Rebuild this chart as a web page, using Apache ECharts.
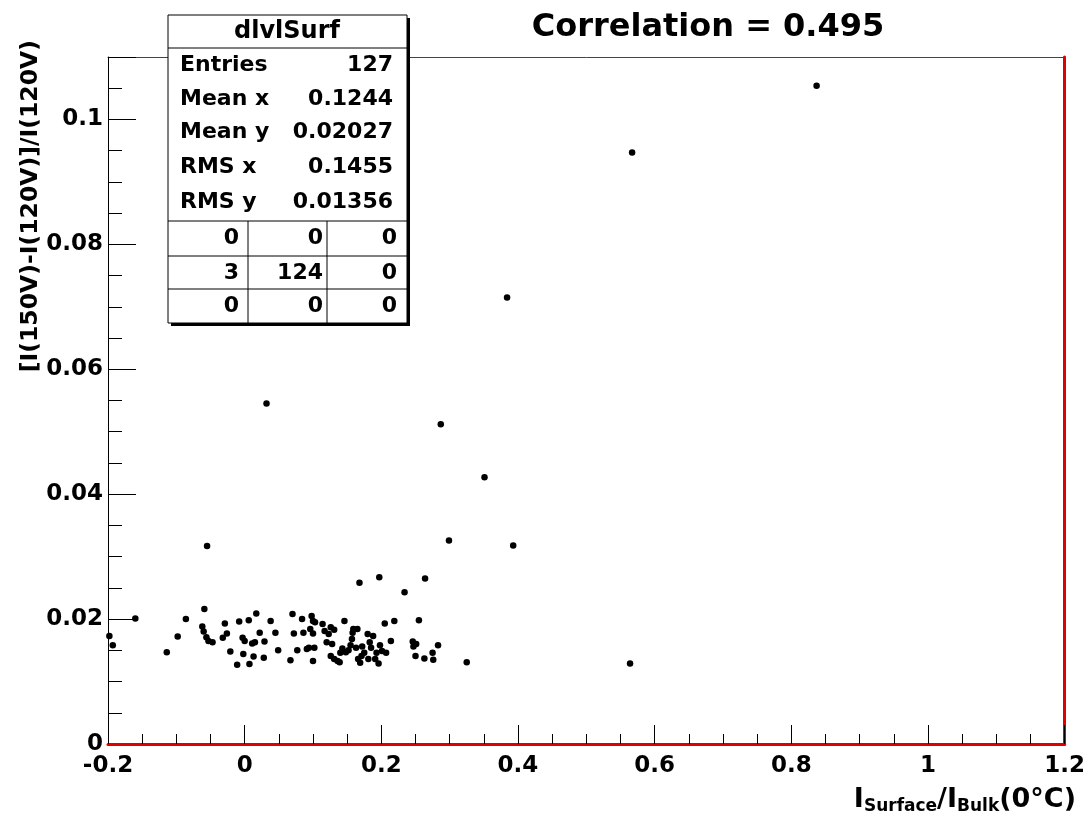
<!DOCTYPE html>
<html>
<head>
<meta charset="utf-8">
<script src="https://cdn.jsdelivr.net/npm/echarts@6/dist/echarts.min.js"></script>
<style>
html, body { margin: 0; padding: 0; background: #fff; }
#chart { width: 1088px; height: 820px; }
</style>
</head>
<body>
<div id="chart"></div>
<script>
// points (3 underflow entries with x < -0.2 are not drawn)
var pointsX = [-0.198, -0.193, -0.160, -0.114, -0.098, -0.086, -0.059, -0.062, -0.060, -0.056,
    -0.053, -0.047, -0.029, -0.032, -0.026, -0.021, -0.011, -0.008, -0.002, -0.003,
    0.000, 0.006, 0.007, 0.011, 0.013, 0.017, 0.015, 0.022, 0.028, 0.029,
    0.038, 0.045, 0.049, 0.067, 0.070, 0.072, 0.077, 0.084, 0.086, 0.091,
    0.094, 0.096, 0.098, 0.100, 0.100, 0.100, 0.102, 0.103, 0.114, 0.117,
    0.120, 0.123, 0.126, 0.128, 0.131, 0.126, 0.131, 0.136, 0.139, 0.140,
    0.143, 0.146, 0.148, 0.152, 0.155, 0.157, 0.158, 0.159, 0.163, 0.165,
    0.166, 0.168, 0.169, 0.171, 0.172, 0.175, 0.180, 0.181, 0.183, 0.185,
    0.188, 0.191, 0.193, 0.196, 0.197, 0.198, 0.201, 0.205, 0.207, 0.214,
    0.219, 0.234, 0.246, 0.251, 0.247, 0.250, 0.255, 0.264, 0.263, 0.275,
    0.276, 0.283, 0.325,
    -0.055, 0.032, 0.287, 0.299, 0.351, 0.384, 0.393, 0.564, 0.567, 0.837];
var pointsY = [0.0173, 0.0158, 0.0201, 0.0147, 0.0172, 0.0200, 0.0216, 0.0188, 0.0180, 0.0171,
    0.0165, 0.0163, 0.0193, 0.0170, 0.0177, 0.0148, 0.0127, 0.0196, 0.0144, 0.0170,
    0.0165, 0.0198, 0.0128, 0.0161, 0.0140, 0.0209, 0.0163, 0.0178, 0.0138, 0.0164,
    0.0197, 0.0178, 0.0150, 0.0134, 0.0208, 0.0177, 0.0150, 0.0200, 0.0178, 0.0152,
    0.0154, 0.0184, 0.0205, 0.0197, 0.0177, 0.0133, 0.0154, 0.0195, 0.0192, 0.0181,
    0.0163, 0.0176, 0.0187, 0.0160, 0.0183, 0.0141, 0.0136, 0.0133, 0.0131, 0.0146,
    0.0153, 0.0197, 0.0147, 0.0150, 0.0158, 0.0168, 0.0178, 0.0184, 0.0154, 0.0184,
    0.0136, 0.0258, 0.0130, 0.0141, 0.0156, 0.0146, 0.0176, 0.0136, 0.0163, 0.0154,
    0.0173, 0.0136, 0.0146, 0.0129, 0.0267, 0.0158, 0.0149, 0.0193, 0.0146, 0.0165,
    0.0197, 0.0243, 0.0164, 0.0160, 0.0156, 0.0141, 0.0198, 0.0265, 0.0137, 0.0146,
    0.0135, 0.0158, 0.0131,
    0.0317, 0.0545, 0.0512, 0.0326, 0.0427, 0.0715, 0.0318, 0.0129, 0.0947, 0.1054];

var statNames = ['Entries', 'Mean x', 'Mean y', 'RMS x', 'RMS y'];
var statValues = ['127', '0.1244', '0.02027', '0.1455', '0.01356'];
var overflowTable = [['0', '0', '0'], ['3', '124', '0'], ['0', '0', '0']];

var FONT = 'DejaVu Sans';

var data = [];
for (var i = 0; i < pointsX.length; i++) {
    data.push([pointsX[i], pointsY[i]]);
}

var graphics = [];
// title
graphics.push({
    type: 'text', x: 708, y: 28, z: 10,
    style: { text: 'Correlation = 0.495', font: 'bold 32px ' + FONT, fill: '#000', align: 'center', verticalAlign: 'middle' }
});
// y axis title
graphics.push({
    type: 'text', x: 31, y: 40, rotation: Math.PI / 2, z: 10,
    style: { text: '[I(150V)-I(120V)]/I(120V)', font: 'bold 23.5px ' + FONT, fill: '#000', align: 'right', verticalAlign: 'middle' }
});
// x axis title with subscripts
graphics.push({
    type: 'text', x: 1076, y: 800, z: 10,
    style: {
        text: '{a|I}{s|Surface}{a|/I}{s|Bulk}{a|(0°C)}',
        align: 'right', verticalAlign: 'middle',
        rich: {
            a: { font: 'bold 27px ' + FONT, fill: '#000' },
            s: { font: 'bold 17px ' + FONT, fill: '#000', padding: [14, 0, 0, 0] }
        }
    }
});

// stats box
var bx = 168, by = 15, bw = 239, bh = 308;
graphics.push({ type: 'rect', z: 20, shape: { x: bx + 3, y: by + 3, width: bw, height: bh }, style: { fill: '#000' } });
graphics.push({ type: 'rect', z: 21, shape: { x: bx, y: by, width: bw, height: bh }, style: { fill: '#fff', stroke: '#000', lineWidth: 1 } });
var hLines = [48, 221, 256, 289];
for (var k = 0; k < hLines.length; k++) {
    graphics.push({ type: 'line', z: 22, shape: { x1: bx, y1: hLines[k], x2: bx + bw, y2: hLines[k] }, style: { stroke: '#000', lineWidth: 1 } });
}
var vLines = [248, 327];
for (k = 0; k < vLines.length; k++) {
    graphics.push({ type: 'line', z: 22, shape: { x1: vLines[k], y1: 221, x2: vLines[k], y2: by + bh }, style: { stroke: '#000', lineWidth: 1 } });
}
graphics.push({
    type: 'text', x: 287, y: 32, z: 23,
    style: { text: 'dlvlSurf', font: 'bold 24px ' + FONT, fill: '#000', align: 'center', verticalAlign: 'middle' }
});
var rowY = [65, 99, 132, 167, 202];
for (k = 0; k < statNames.length; k++) {
    graphics.push({ type: 'text', x: 180, y: rowY[k], z: 23,
        style: { text: statNames[k], font: 'bold 22px ' + FONT, fill: '#000', align: 'left', verticalAlign: 'middle' } });
    graphics.push({ type: 'text', x: 393, y: rowY[k], z: 23,
        style: { text: statValues[k], font: 'bold 22px ' + FONT, fill: '#000', align: 'right', verticalAlign: 'middle' } });
}
var cellRight = [239, 323, 397];
var cellY = [238, 273, 306];
for (var r = 0; r < overflowTable.length; r++) {
    for (var c = 0; c < 3; c++) {
        graphics.push({ type: 'text', x: cellRight[c], y: cellY[r], z: 23,
            style: { text: overflowTable[r][c], font: 'bold 22px ' + FONT, fill: '#000', align: 'right', verticalAlign: 'middle' } });
    }
}

var labelStyle = { color: '#000', fontFamily: FONT, fontWeight: 'bold', fontSize: 23 };

var option = {
    backgroundColor: '#fff',
    animation: false,
    grid: { left: 108, right: 23, top: 57, bottom: 76, show: false },
    xAxis: [{
        type: 'value', min: -0.2, max: 1.2, interval: 0.2, position: 'bottom', z: 5,
        axisLine: { onZero: false, lineStyle: { color: '#e00000', width: 3 } },
        axisTick: { inside: true, length: 19, lineStyle: { color: '#000', width: 1 } },
        minorTick: { show: true, splitNumber: 4, length: 10, lineStyle: { color: '#000', width: 1 } },
        splitLine: { show: false },
        axisLabel: Object.assign({ margin: 11, formatter: function (v) { return String(+v.toFixed(2)); } }, labelStyle)
    }, {
        type: 'value', min: -0.2, max: 1.2, position: 'top',
        axisLine: { onZero: false, lineStyle: { color: '#444', width: 1 } },
        axisTick: { show: false }, axisLabel: { show: false }, splitLine: { show: false }
    }],
    yAxis: [{
        type: 'value', min: 0, max: 0.11, interval: 0.02, position: 'left',
        axisLine: { onZero: false, lineStyle: { color: '#000', width: 1 } },
        axisTick: { inside: true, length: 28, lineStyle: { color: '#000', width: 1 } },
        splitLine: { show: false },
        axisLabel: Object.assign({
            margin: 5,
            formatter: function (v) {
                if (v > 0.105) return '';
                return String(+v.toFixed(3));
            }
        }, labelStyle)
    }, {
        type: 'value', min: 0, max: 0.11, interval: 0.005, position: 'left',
        axisLine: { show: false, onZero: false },
        axisTick: { inside: true, length: 14, lineStyle: { color: '#000', width: 1 } },
        axisLabel: { show: false }, splitLine: { show: false }
    }, {
        type: 'value', min: 0, max: 0.11, position: 'right', z: 5,
        axisLine: { onZero: false, lineStyle: { color: '#e00000', width: 3 } },
        axisTick: { show: false }, axisLabel: { show: false }, splitLine: { show: false }
    }],
    series: [{
        type: 'scatter',
        xAxisIndex: 0, yAxisIndex: 0,
        symbol: 'circle', symbolSize: 6.5,
        itemStyle: { color: '#000', opacity: 1 },
        data: data
    }],
    graphic: graphics
};

var chart = echarts.init(document.getElementById('chart'));
chart.setOption(option);
</script>
</body>
</html>
